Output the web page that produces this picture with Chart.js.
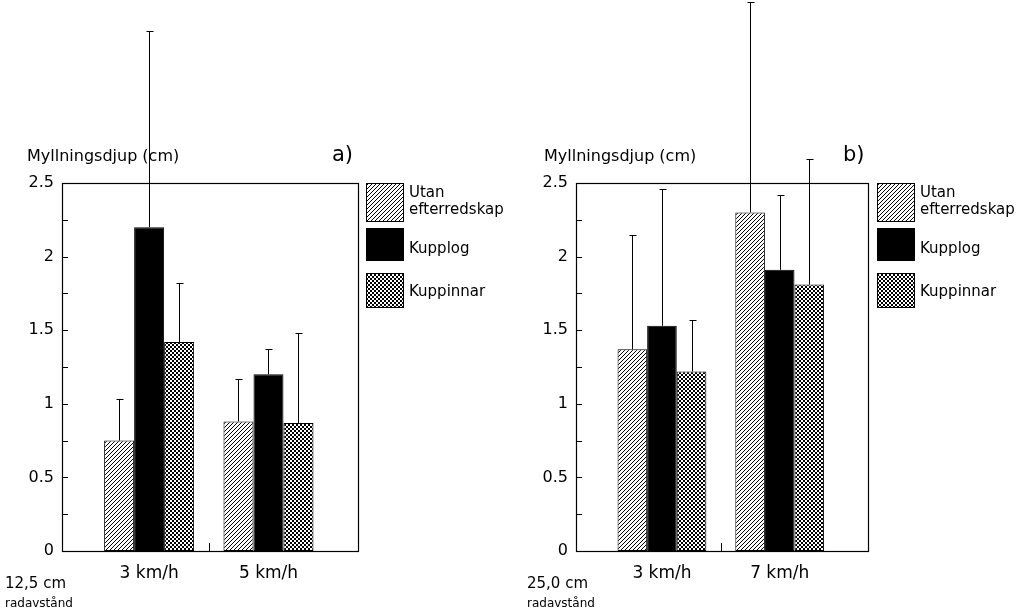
<!DOCTYPE html>
<html>
<head>
<meta charset="utf-8">
<script src="https://cdn.jsdelivr.net/npm/chart.js@4.4.1/dist/chart.umd.min.js"></script>
<style>
html, body { margin: 0; padding: 0; background: #fff; }
.panel { position: absolute; top: 0; width: 515px; height: 614px; }
#pa { left: 0; }
#pb { left: 515px; }
</style>
</head>
<body>
<div class="panel" id="pa"><canvas id="chart-a"></canvas></div>
<div class="panel" id="pb"><canvas id="chart-b"></canvas></div>
<script>
var seriesNames = ["Utan efterredskap", "Kupplog", "Kuppinnar"];
var categoriesA = ["3 km/h", "5 km/h"];
var categoriesB = ["3 km/h", "7 km/h"];
var yTickValues = [0, 0.5, 1, 1.5, 2, 2.5];

// a) 12,5 cm radavstånd
var utanA = [0.75, 0.88];
var kupplogA = [2.2, 1.2];
var kuppinnarA = [1.42, 0.87];
// upper end of the error bars
var utanErrA = [1.03, 1.17];
var kupplogErrA = [3.53, 1.37];
var kuppinnarErrA = [1.82, 1.48];

// b) 25,0 cm radavstånd
var utanB = [1.37, 2.3];
var kupplogB = [1.53, 1.91];
var kuppinnarB = [1.22, 1.81];
var utanErrB = [2.15, 3.73];
var kupplogErrB = [2.46, 2.42];
var kuppinnarErrB = [1.57, 2.66];

Chart.defaults.font.family = "DejaVu Sans";
Chart.defaults.color = "#000";

function makePattern(ctx, kind) {
    var tile = document.createElement("canvas");
    tile.width = 4;
    tile.height = 4;
    var g = tile.getContext("2d");
    g.fillStyle = "#fff";
    g.fillRect(0, 0, 4, 4);
    g.fillStyle = "#000";
    for (var x = 0; x < 4; x++) {
        for (var y = 0; y < 4; y++) {
            var on;
            if (kind == "hatch") on = (x + y) % 4 == 3;
            else on = (Math.floor(x / 2) + Math.floor(y / 2)) % 2 == 0;
            if (on) g.fillRect(x, y, 1, 1);
        }
    }
    return ctx.createPattern(tile, "repeat");
}

var errorBars = {
    id: "errorBars",
    afterDatasetsDraw: function (chart) {
        var ctx = chart.ctx;
        var yScale = chart.scales.y;
        ctx.save();
        ctx.strokeStyle = "#000";
        ctx.lineWidth = 1;
        chart.data.datasets.forEach(function (ds, i) {
            chart.getDatasetMeta(i).data.forEach(function (bar, j) {
                var top = Math.round(yScale.getPixelForValue(ds.errTop[j])) + 0.5;
                var x = Math.round(bar.x) + 0.5;
                ctx.beginPath();
                ctx.moveTo(x, bar.y);
                ctx.lineTo(x, top);
                ctx.moveTo(x - 3, top);
                ctx.lineTo(x + 4, top);
                ctx.stroke();
            });
        });
        ctx.restore();
    }
};

var panelDecor = {
    id: "panelDecor",
    afterDraw: function (chart, args, o) {
        var ctx = chart.ctx;
        var area = chart.chartArea;
        var yScale = chart.scales.y;
        var xScale = chart.scales.x;
        ctx.save();
        // frame
        ctx.strokeStyle = "#000";
        ctx.lineWidth = 1.2;
        ctx.strokeRect(Math.round(area.left) + 0.5, Math.round(area.top) + 0.5,
            Math.round(area.right - area.left), Math.round(area.bottom - area.top));
        // inward ticks
        ctx.lineWidth = 1;
        ctx.beginPath();
        for (var v = 0.25; v < 2.5; v += 0.25) {
            var py = Math.round(yScale.getPixelForValue(v)) + 0.5;
            ctx.moveTo(area.left, py);
            ctx.lineTo(area.left + 6, py);
        }
        var px = Math.round(xScale.getPixelForValue(1.5)) + 0.5;
        ctx.moveTo(px, area.bottom);
        ctx.lineTo(px, area.bottom - 8);
        ctx.stroke();

        // texts
        ctx.fillStyle = "#000";
        ctx.textBaseline = "alphabetic";
        ctx.textAlign = "left";
        ctx.font = "16px 'DejaVu Sans'";
        ctx.fillText("Myllningsdjup (cm)", o.titleX, 161);
        ctx.font = "21px 'DejaVu Sans'";
        ctx.fillText(o.letter, o.letterX, 161);
        ctx.font = "15px 'DejaVu Sans'";
        ctx.fillText(o.note[0], o.noteX, 588);
        ctx.font = "12px 'DejaVu Sans'";
        ctx.fillText(o.note[1], o.noteX, 607);

        // legend
        var boxes = [[183, 38], [228, 32], [273, 34]];
        var textX = o.legendX + 43;
        chart.data.datasets.forEach(function (ds, i) {
            var b = boxes[i];
            ctx.fillStyle = ds.backgroundColor;
            ctx.fillRect(o.legendX, b[0], 37, b[1]);
            ctx.strokeStyle = "#000";
            ctx.lineWidth = 1;
            ctx.strokeRect(o.legendX + 0.5, b[0] + 0.5, 37, b[1]);
        });
        ctx.fillStyle = "#000";
        ctx.font = "15px 'DejaVu Sans'";
        ctx.fillText("Utan", textX, 197);
        ctx.fillText("efterredskap", textX, 214);
        ctx.fillText(seriesNames[1], textX, 253);
        ctx.fillText(seriesNames[2], textX, 296);
        ctx.restore();
    }
};

function makePanel(canvasId, cats, utan, kupplog, kuppinnar, utanErr, kupplogErr, kuppinnarErr, decor) {
    var ctx = document.getElementById(canvasId).getContext("2d");
    var hatch = makePattern(ctx, "hatch");
    var checker = makePattern(ctx, "checker");
    function pts(values) {
        return values.map(function (v, i) { return { x: i + 1, y: v }; });
    }
    var common = {
        borderColor: "#000",
        borderWidth: 1,
        borderSkipped: false,
        barPercentage: 1.0,
        categoryPercentage: 0.754
    };
    return new Chart(ctx, {
        type: "bar",
        data: {
            datasets: [
                Object.assign({ label: seriesNames[0], data: pts(utan), errTop: utanErr, backgroundColor: hatch }, common),
                Object.assign({ label: seriesNames[1], data: pts(kupplog), errTop: kupplogErr, backgroundColor: "#000" }, common),
                Object.assign({ label: seriesNames[2], data: pts(kuppinnar), errTop: kuppinnarErr, backgroundColor: checker }, common)
            ]
        },
        options: {
            responsive: true,
            maintainAspectRatio: false,
            animation: false,
            layout: {
                padding: { top: 183, right: decor.padRight, bottom: 0, left: 0 }
            },
            plugins: {
                legend: { display: false },
                tooltip: { enabled: false },
                panelDecor: decor
            },
            scales: {
                x: {
                    type: "linear",
                    min: 0.27,
                    max: 2.75,
                    offset: false,
                    grid: { display: false, drawTicks: false },
                    border: { display: false },
                    afterBuildTicks: function (axis) {
                        axis.ticks = cats.map(function (c, i) { return { value: i + 1 }; });
                    },
                    afterFit: function (axis) { axis.height = 63; },
                    ticks: {
                        autoSkip: false,
                        maxRotation: 0,
                        padding: 12,
                        font: { size: 17 },
                        callback: function (value) {
                            return cats[value - 1];
                        }
                    }
                },
                y: {
                    min: 0,
                    max: 2.5,
                    grid: { display: false, drawTicks: false },
                    border: { display: false },
                    afterBuildTicks: function (axis) {
                        axis.ticks = yTickValues.map(function (v) { return { value: v }; });
                    },
                    afterFit: function (axis) { axis.width = decor.axisWidth; },
                    ticks: {
                        padding: 8,
                        font: { size: 16 },
                        callback: function (value) { return String(value); }
                    }
                }
            }
        },
        plugins: [errorBars, panelDecor]
    });
}

makePanel("chart-a", categoriesA, utanA, kupplogA, kuppinnarA, utanErrA, kupplogErrA, kuppinnarErrA, {
    letter: "a)", titleX: 27, letterX: 332, legendX: 366, noteX: 5,
    note: ["12,5 cm", "radavstånd"], axisWidth: 62, padRight: 157
});
makePanel("chart-b", categoriesB, utanB, kupplogB, kuppinnarB, utanErrB, kupplogErrB, kuppinnarErrB, {
    letter: "b)", titleX: 29, letterX: 328, legendX: 362, noteX: 12,
    note: ["25,0 cm", "radavstånd"], axisWidth: 61, padRight: 162
});
</script>
</body>
</html>
